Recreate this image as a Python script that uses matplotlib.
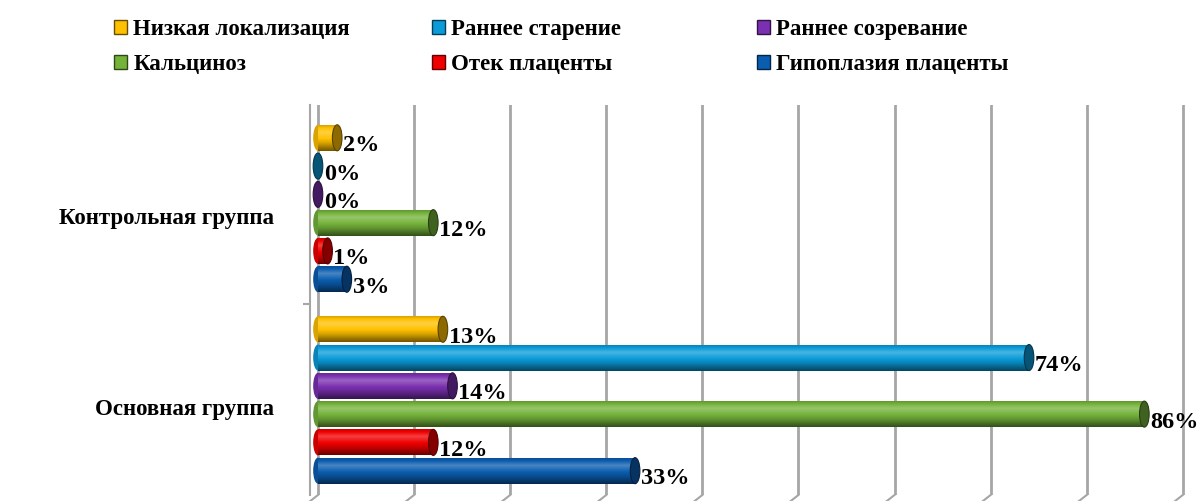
import numpy as np
import matplotlib
matplotlib.use("Agg")
import matplotlib.pyplot as plt
from matplotlib.patches import Ellipse, Patch
from matplotlib.colors import to_rgb

# data
groups = ['Контрольная группа', 'Основная группа']
series = ['Низкая локализация', 'Раннее старение', 'Раннее созревание',
          'Кальциноз', 'Отек плаценты', 'Гипоплазия плаценты']
control_vals = [2, 0, 0, 12, 1, 3]
main_vals = [13, 74, 14, 86, 12, 33]
colors = ['#FFC000', '#0A9BD8', '#7A30B0', '#74B23A', '#F00000', '#0B5DB0']

plt.rcParams['font.family'] = ['Liberation Serif', 'DejaVu Serif']
plt.rcParams['font.weight'] = 'bold'


def shade(c, f):
    c = np.array(to_rgb(c))
    if f < 1:
        return c * f
    return c + (1 - c) * (f - 1)


def gradient(c, n=40):
    t = np.linspace(0, 1, n)
    f = np.interp(t, [0, 0.3, 0.7, 1], [0.45, 0.85, 1.25, 0.8])
    return np.array([shade(c, k) for k in f])[:, None, :]


fig = plt.figure(figsize=(12.02, 5.01), dpi=100)
ax = fig.add_axes([310 / 1202, 6 / 501, 892 / 1202, 390 / 501])

gap = 6.77
h = 0.92
cap_w = 1.0
group_pos = np.array([1, 0]) * gap
values = [control_vals, main_vals]

for gi, vals in enumerate(values):
    for i, v in enumerate(vals):
        y = group_pos[gi] + 2.5 - i
        c = colors[i]
        if v > 0:
            bars = ax.barh(y, v, height=h, color=c, zorder=2)
            im = ax.imshow(gradient(c), extent=[0, v, y - h / 2, y + h / 2],
                           origin='lower', aspect='auto', zorder=2.1)
            im.set_clip_path(bars.patches[0])
            ax.add_patch(Ellipse((0, y), cap_w, h, facecolor=shade(c, 0.85),
                                 edgecolor='none', zorder=2.05, clip_on=False))
        ax.add_patch(Ellipse((v, y), cap_w, h, facecolor=shade(c, 0.55),
                             edgecolor=shade(c, 0.35), lw=0.8, zorder=2.2))
        ax.text(v + cap_w * 0.6, y - 0.28, f'{v}%', fontsize=17.5,
                fontweight='bold', ha='left', va='center', clip_on=False)

ax.set_xlim(-0.83, 92)
ax.set_ylim(-3.36, 10.43)
ax.set_xticks(np.arange(0, 91, 10))
ax.set_xticklabels([])
ax.tick_params(axis='x', length=0)
ax.grid(axis='x', color='#A6A6A6', lw=2)
ax.set_axisbelow(True)

# 3d floor edge under each gridline
for gx in np.arange(0, 91, 10):
    ax.plot([gx, gx - 0.9], [-3.36, -3.6], color='#A6A6A6', lw=1.5,
            clip_on=False, zorder=1)

ax.set_yticks(group_pos - 0.25)
ax.set_yticklabels(groups, fontsize=16.5, fontweight='bold')
ax.tick_params(axis='y', length=0, pad=26)
ax.set_yticks([gap / 2], minor=True)
ax.tick_params(axis='y', which='minor', length=5, color='#A6A6A6', width=1.5)

for s in ['top', 'right', 'bottom']:
    ax.spines[s].set_visible(False)
ax.spines['left'].set_color('#A6A6A6')
ax.spines['left'].set_linewidth(1.5)

# legend, one block per column
col_x = [114, 432, 757]
for k in range(3):
    idx = [k, k + 3]
    handles = [Patch(facecolor=colors[j], edgecolor=shade(colors[j], 0.4), lw=1)
               for j in idx]
    leg = fig.legend(handles, [series[j] for j in idx], loc='upper left',
                     bbox_to_anchor=(col_x[k] / 1202, 1 - 19 / 501),
                     frameon=False, borderpad=0, borderaxespad=0,
                     handlelength=0.55, handleheight=0.55, handletextpad=0.3,
                     labelspacing=0.62, prop={'weight': 'bold', 'size': 16.5})

fig.savefig('out.png', dpi=100)
